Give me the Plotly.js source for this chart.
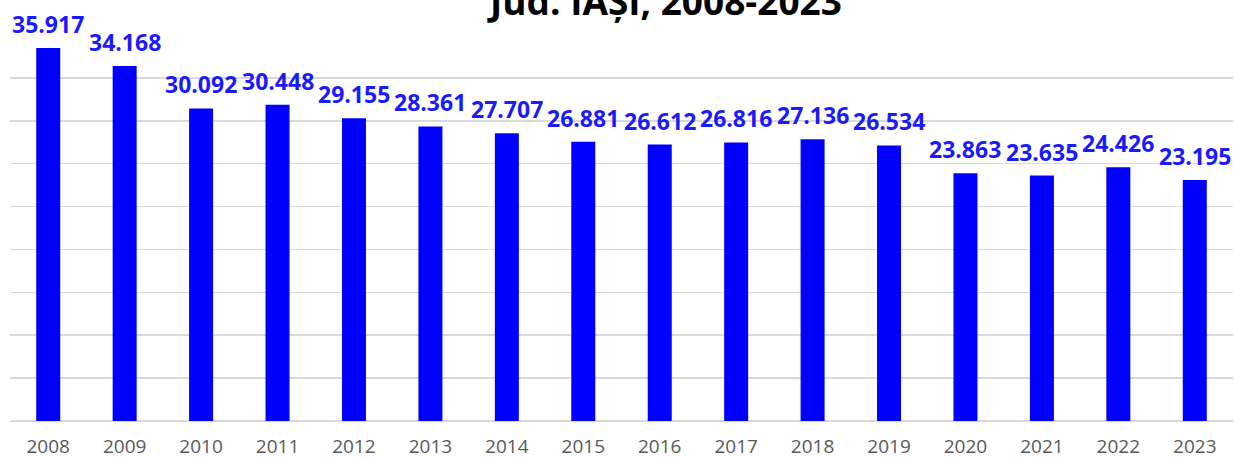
<!DOCTYPE html>
<html>
<head>
<meta charset="utf-8">
<script src="https://cdn.plot.ly/plotly-3.0.1.min.js"></script>
<style>html,body{margin:0;padding:0;background:#fff;}#chart{width:1234px;height:459px;}</style>
</head>
<body>
<div id="chart"></div>
<script>
const years = ['2008','2009','2010','2011','2012','2013','2014','2015','2016','2017','2018','2019','2020','2021','2022','2023'];
const values = [35917,34168,30092,30448,29155,28361,27707,26881,26612,26816,27136,26534,23863,23635,24426,23195];
const titleText = 'Jud. IAȘI, 2008-2023';

const yMax = 37163;
const labelAnnotations = years.map((yr, i) => ({
  x: i, y: values[i], xref: 'x', yref: 'y',
  text: values[i].toLocaleString('de-DE'),
  showarrow: false, yanchor: 'bottom', yshift: 6,
  font: {family: 'Open Sans', size: 23, color: '#1a1aff', weight: 'bold'}
}));

const trace = {
  type: 'bar', x: years, y: values,
  marker: {color: '#0000ff', line: {width: 0}},
  hoverinfo: 'skip'
};

const layout = {
  width: 1234, height: 459,
  margin: {l: 10, r: 1, t: 35, b: 38},
  paper_bgcolor: '#ffffff', plot_bgcolor: '#ffffff',
  bargap: 0.686,
  showlegend: false,
  xaxis: {
    type: 'category', range: [-0.5, years.length - 0.5], autorange: false,
    showgrid: false, showline: false, ticks: '', ticklabelstandoff: 12,
    tickfont: {family: 'Open Sans', size: 19, color: '#595959'}
  },
  yaxis: {
    range: [0, yMax], autorange: false, dtick: yMax / 9, showticklabels: false,
    gridcolor: '#d9d9d9', gridwidth: 1.5,
    zeroline: true, zerolinecolor: '#d9d9d9', zerolinewidth: 1.5, showline: false, ticks: ''
  },
  annotations: labelAnnotations.concat([{
    text: titleText, xref: 'paper', yref: 'paper', x: 0.535, y: 1.018, xanchor: 'center', yanchor: 'bottom',
    showarrow: false, font: {family: 'Open Sans', size: 37, color: '#000000', weight: 'bold'}
  }])
};

Plotly.newPlot('chart', [trace], layout, {displayModeBar: false, staticPlot: true});
</script>
</body>
</html>
